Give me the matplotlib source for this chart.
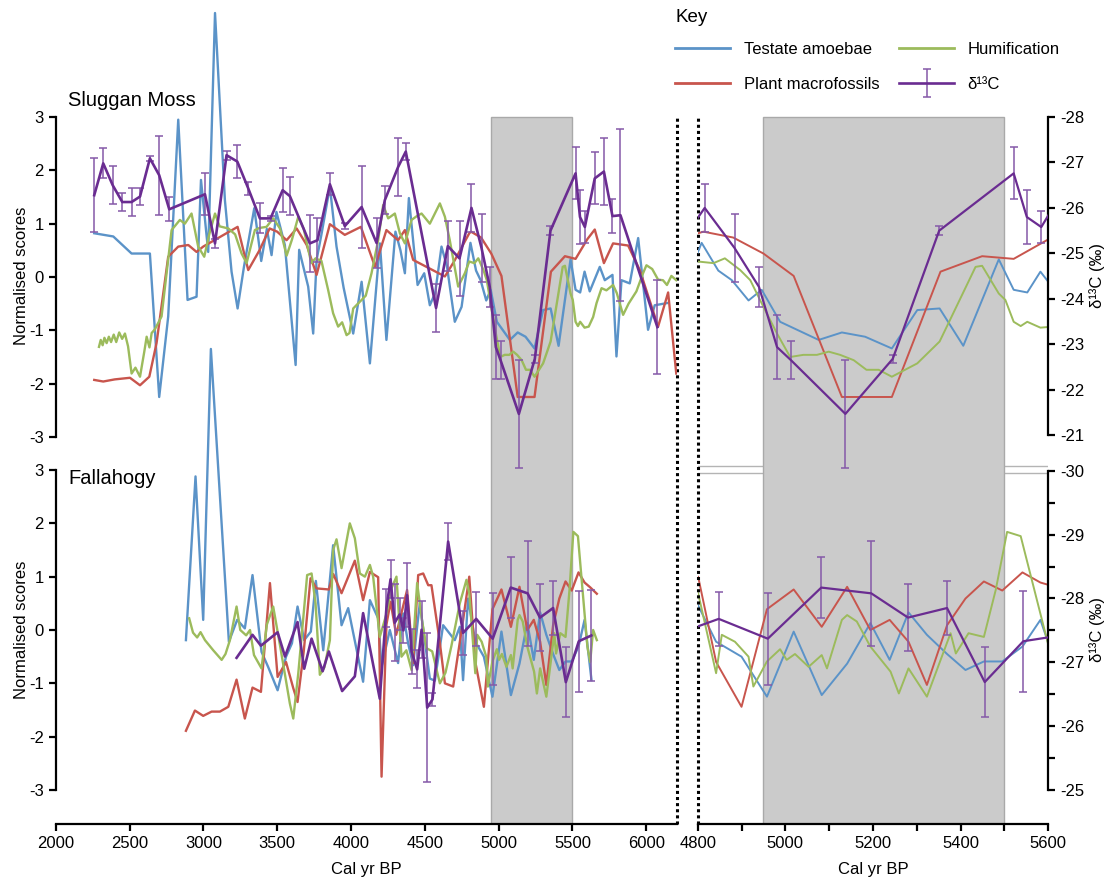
import numpy as np
import matplotlib.pyplot as plt
from matplotlib.lines import Line2D
from matplotlib.legend_handler import HandlerErrorbar

plt.rcParams['font.family'] = ['Liberation Sans', 'DejaVu Sans']
plt.rcParams['axes.unicode_minus'] = False

# ---- Sluggan Moss (normalised scores) ----
sm_testate = [(2261, 0.82), (2390, 0.76), (2514, 0.44), (2638, 0.44), (2701, -2.25), (2762, -0.74),
              (2830, 2.95), (2893, -0.43), (2954, -0.37), (2984, 1.82), (3033, 0.47), (3079, 4.95),
              (3146, 1.44), (3191, 0.10), (3232, -0.59), (3275, 0.19), (3345, 1.29), (3392, 0.30),
              (3430, 0.90), (3462, 0.41), (3495, 1.22), (3552, 0.60), (3625, -1.65), (3649, 0.51),
              (3710, -0.18), (3744, -1.06), (3767, 0.32), (3800, 0.80), (3857, 1.69), (3902, 0.57),
              (3950, -0.20), (4015, -1.06), (4072, -0.09), (4128, -1.62), (4196, 0.63), (4240, -1.18),
              (4301, 0.85), (4335, 0.50), (4365, 0.07), (4392, 1.48), (4451, -0.15), (4496, 0.07),
              (4534, -0.53), (4570, -0.30), (4613, 0.57), (4650, 0.20), (4703, -0.84), (4749, -0.56),
              (4809, 0.64), (4847, 0.12), (4878, -0.06), (4916, -0.44), (4946, -0.24), (4988, -0.84),
              (5076, -1.18), (5129, -1.04), (5182, -1.12), (5243, -1.34), (5301, -0.62), (5352, -0.59),
              (5406, -1.29), (5487, 0.33), (5521, -0.24), (5552, -0.29), (5582, 0.10), (5617, -0.27),
              (5685, 0.19), (5719, -0.06), (5771, 0.04), (5798, -1.49), (5832, -0.06), (5888, -0.12),
              (5945, 0.73), (6012, -0.99), (6057, -0.53), (6140, -0.49)]

sm_macro = [(2261, -1.93), (2322, -1.96), (2400, -1.92), (2503, -1.89), (2571, -2.03), (2634, -1.87),
            (2683, -1.24), (2762, 0.38), (2830, 0.57), (2898, 0.60), (2954, 0.47), (2999, 0.57),
            (3232, 0.94), (3304, 0.13), (3380, 0.50), (3449, 0.91), (3500, 0.85), (3564, 0.69),
            (3632, 0.91), (3700, 0.60), (3767, 0.04), (3857, 0.99), (3958, 0.79), (4067, 0.94),
            (4163, 0.19), (4240, 0.88), (4319, 0.69), (4365, 0.88), (4421, 0.32), (4636, 0.01),
            (4700, 0.30), (4801, 0.82), (4813, 0.85), (4881, 0.74), (4950, 0.44), (5019, 0.02),
            (5129, -2.25), (5243, -2.25), (5354, 0.10), (5449, 0.39), (5521, 0.34), (5601, 0.71),
            (5651, 0.89), (5713, 0.26), (5775, 0.63), (5877, 0.59), (5956, 0.13), (6080, -0.93),
            (6148, -0.29), (6203, -1.81)]

sm_humif = [(2293, -1.31), (2305, -1.18), (2318, -1.28), (2330, -1.14), (2345, -1.24), (2360, -1.12),
            (2375, -1.22), (2393, -1.08), (2410, -1.22), (2430, -1.04), (2450, -1.16), (2469, -1.06),
            (2490, -1.30), (2514, -1.81), (2540, -1.70), (2571, -1.87), (2600, -1.40), (2616, -1.12),
            (2635, -1.32), (2650, -1.05), (2672, -0.98), (2717, -0.74), (2785, 0.88), (2841, 1.07),
            (2875, 1.00), (2920, 1.19), (2965, 0.57), (3006, 0.38), (3040, 0.80), (3079, 1.19),
            (3110, 0.95), (3169, 0.91), (3215, 0.80), (3259, 0.44), (3293, 0.26), (3349, 0.88),
            (3380, 0.92), (3428, 0.94), (3473, 1.10), (3519, 0.91), (3564, 0.40), (3600, 0.70),
            (3643, 1.13), (3680, 0.90), (3731, 0.26), (3760, 0.35), (3800, 0.30), (3845, -0.24),
            (3879, -0.68), (3913, -0.93), (3940, -0.85), (3970, -1.09), (3990, -1.05), (4015, -0.59),
            (4072, -0.43), (4100, -0.35), (4139, 0.07), (4184, 0.69), (4218, 1.35), (4252, 1.10),
            (4297, 1.19), (4331, 0.82), (4365, 0.63), (4410, 1.07), (4450, 1.15), (4478, 1.19),
            (4534, 1.00), (4602, 1.38), (4636, 1.13), (4669, 0.69), (4726, -0.18), (4771, 0.07),
            (4801, 0.29), (4836, 0.26), (4862, 0.35), (4897, 0.13), (4920, -0.06), (4950, -0.56),
            (4981, -1.06), (5011, -1.50), (5041, -1.46), (5072, -1.46), (5099, -1.40), (5125, -1.46),
            (5156, -1.56), (5185, -1.74), (5213, -1.74), (5243, -1.87), (5301, -1.62), (5352, -1.21),
            (5403, -0.34), (5434, 0.19), (5449, 0.21), (5487, -0.31), (5502, -0.43), (5521, -0.84),
            (5537, -0.92), (5552, -0.84), (5582, -0.95), (5610, -0.93), (5640, -0.75), (5663, -0.49),
            (5697, -0.21), (5730, -0.25), (5775, -0.15), (5800, -0.30), (5843, -0.71), (5880, -0.50),
            (5933, -0.27), (5978, 0.07), (6001, 0.22), (6040, 0.15), (6080, -0.05), (6113, -0.06),
            (6140, -0.15), (6170, 0.02), (6203, -0.06)]

# (year, d13C permil, error)
sm_d13c = [(2261, -26.28, 0.82), (2322, -26.98, 0.33), (2386, -26.50, 0.42), (2451, -26.13, 0.19),
           (2514, -26.13, 0.30), (2571, -26.25, 0.18), (2638, -27.09, 0.06), (2701, -26.72, 0.87),
           (2769, -25.97, 0.26), (3011, -26.30, 0.46), (3079, -25.22, 0.10), (3157, -27.16, 0.10),
           (3230, -27.02, 0.37), (3304, -26.43, 0.15), (3383, -25.77, 0.33), (3455, -25.77, 0.05),
           (3537, -26.39, 0.49), (3586, -26.26, 0.42), (3721, -25.22, 0.62), (3773, -25.29, 0.48),
           (3857, -26.52, 0.24), (3958, -25.60, 0.06), (4072, -26.02, 0.90), (4173, -25.23, 0.55),
           (4229, -26.17, 0.31), (4319, -26.90, 0.64), (4371, -27.24, 0.19), (4576, -23.80, 0.52),
           (4656, -25.16, 0.55), (4735, -24.89, 0.82), (4816, -26.00, 0.52), (4884, -25.12, 0.75),
           (4940, -24.26, 0.44), (4981, -22.94, 0.71), (5013, -22.65, 0.42), (5137, -21.47, 1.19),
           (5245, -22.68, 0.09), (5351, -25.50, 0.10), (5521, -26.76, 0.57), (5551, -25.80, 0.59),
           (5584, -25.58, 0.35), (5651, -26.65, 0.57), (5713, -26.80, 0.74), (5771, -25.82, 0.38),
           (5825, -25.84, 1.89), (6075, -23.38, 1.03)]

# ---- Fallahogy ----
fa_testate = [(2882, -0.19), (2947, 2.88), (2999, 0.19), (3051, 5.27), (3173, -0.22), (3229, 0.19),
              (3281, 0.03), (3333, 1.03), (3394, -0.41), (3440, -0.70), (3503, -1.13), (3560, -0.50),
              (3600, -0.25), (3638, 0.44), (3683, -0.19), (3728, -0.03), (3762, 0.92), (3812, -0.38),
              (3879, 1.59), (3936, 0.09), (3981, 0.41), (4082, -0.97), (4128, 0.56), (4184, 0.22),
              (4207, -0.69), (4263, 0.00), (4319, -0.62), (4353, 0.31), (4387, -0.25), (4421, -0.66),
              (4448, 0.06), (4466, 0.50), (4534, -0.91), (4568, -0.95), (4624, 0.09), (4703, -0.19),
              (4737, 0.06), (4759, -0.94), (4793, 0.59), (4842, -0.22), (4900, -0.50), (4958, -1.25),
              (5019, -0.03), (5083, -1.22), (5141, -0.63), (5194, 0.13), (5238, -0.56), (5281, 0.33),
              (5323, -0.09), (5369, -0.45), (5411, -0.75), (5453, -0.59), (5495, -0.59), (5541, -0.31),
              (5582, 0.19), (5629, -0.94)]

fa_macro = [(2882, -1.89), (2943, -1.51), (2999, -1.61), (3056, -1.53), (3112, -1.53), (3169, -1.44),
            (3225, -0.93), (3281, -1.66), (3333, -1.08), (3390, -1.16), (3451, 0.88), (3503, -0.88),
            (3560, -0.60), (3609, -1.09), (3638, -1.35), (3680, -0.40), (3726, 0.97), (3767, 0.78),
            (3850, 0.76), (3880, 1.05), (3936, 0.69), (4026, 1.30), (4082, 0.56), (4128, 1.09),
            (4184, 0.99), (4207, -2.75), (4240, 0.10), (4268, 0.53), (4306, -0.09), (4340, 0.30),
            (4380, 0.75), (4421, -0.62), (4455, 1.03), (4489, 1.06), (4523, 0.84), (4545, 0.84),
            (4600, -0.20), (4636, -1.00), (4692, -1.06), (4760, 0.20), (4801, 1.00), (4842, -0.60),
            (4900, -1.44), (4958, 0.39), (5019, 0.76), (5083, 0.06), (5141, 0.81), (5194, 0.00),
            (5238, 0.19), (5281, -0.22), (5323, -1.03), (5369, 0.09), (5411, 0.59), (5453, 0.91),
            (5495, 0.74), (5541, 1.08), (5582, 0.89), (5620, 0.80), (5665, 0.68)]

fa_humif = [(2904, 0.22), (2930, -0.05), (2958, -0.14), (2981, -0.04), (3011, -0.19), (3067, -0.38),
            (3124, -0.56), (3150, -0.45), (3180, -0.19), (3225, 0.44), (3250, 0.00), (3290, -0.10),
            (3316, 0.00), (3343, -0.47), (3394, -0.72), (3430, 0.10), (3473, 0.44), (3520, -0.30),
            (3586, -1.38), (3609, -1.66), (3643, -0.81), (3703, 1.03), (3733, 1.06), (3760, 0.50),
            (3789, -0.84), (3820, -0.70), (3857, -0.19), (3879, 1.50), (3902, 1.70), (3936, 1.16),
            (3992, 2.00), (4026, 1.72), (4060, 1.06), (4094, 1.00), (4128, 1.22), (4150, 1.00),
            (4195, -0.13), (4240, 0.30), (4274, 0.78), (4308, 1.00), (4342, -0.50), (4375, -0.38),
            (4410, -0.75), (4448, 0.88), (4480, 0.20), (4511, -0.34), (4550, -0.40), (4602, -1.00),
            (4640, -0.80), (4680, -0.30), (4737, 0.50), (4782, 0.94), (4801, 0.69), (4842, -0.81),
            (4855, -0.09), (4885, -0.22), (4916, -0.50), (4927, -1.06), (4958, -0.59), (4988, -0.36),
            (5003, -0.56), (5022, -0.45), (5053, -0.69), (5083, -0.47), (5095, -0.72), (5129, 0.19),
            (5141, 0.28), (5163, 0.16), (5194, -0.31), (5240, -0.78), (5259, -1.19), (5281, -0.72),
            (5323, -1.25), (5377, -0.06), (5389, -0.44), (5418, -0.06), (5453, -0.13), (5480, 0.75),
            (5506, 1.84), (5537, 1.76), (5601, -0.31), (5620, -0.60), (5640, 0.00), (5665, -0.19)]

nan = np.nan
fa_d13c = [(3225, -27.07, nan), (3333, -27.43, nan), (3390, -27.26, nan), (3503, -27.47, nan),
           (3553, -27.09, nan), (3638, -27.63, nan), (3683, -26.90, nan), (3733, -27.37, nan),
           (3808, -26.86, nan), (3850, -27.17, nan), (3940, -26.55, nan), (4026, -26.78, nan),
           (4082, -27.77, nan), (4195, -26.43, nan), (4240, -27.85, 0.30), (4268, -28.30, 0.30),
           (4296, -27.62, 0.60), (4330, -27.75, 0.25), (4355, -27.50, 0.20), (4380, -28.05, 0.50),
           (4410, -27.17, 0.35), (4448, -26.89, 0.30), (4478, -27.51, 0.45), (4516, -26.29, 1.17),
           (4552, -26.42, 0.10), (4658, -28.89, 0.29), (4759, -27.46, 0.35), (4848, -27.68, 0.42),
           (4960, -27.37, 0.72), (5082, -28.17, 0.48), (5196, -28.08, 0.82), (5280, -27.70, 0.52),
           (5369, -27.85, 0.43), (5455, -26.69, 0.55), (5543, -27.33, 0.79), (5628, -27.42, 0.71)]

shade = (4950, 5500)

c_blue, c_red, c_green = '#5b93c8', '#c8554d', '#9cbb5c'
c_purple, c_ebar = '#6a2c91', '#8559a8'
c_shade = '#cbcbcb'

W, H = 1109, 881
bot_frac = 1 - 824 / H
panels = [
    dict(rect=[55.7 / W, bot_frac, (677 - 55.7) / W, 824 / H], xlim=(2000, 6208), right=False),
    dict(rect=[697.7 / W, bot_frac, (1048.3 - 697.7) / W, 824 / H], xlim=(4800, 5600), right=True),
]

fig = plt.figure(figsize=(W / 100, H / 100), dpi=100)
dotted = (0, (1, 1))
spw = 1.6


def xy(pairs):
    a = np.array(pairs, dtype=float)
    return a[:, 0], a[:, 1]


def dotted_spine(sp):
    sp.set_visible(True)
    sp.set_linestyle(dotted)
    sp.set_linewidth(2.2)
    sp.set_capstyle('butt')
    sp.set_bounds(-3.6375, 9.619)


err_handle = None
for p in panels:
    lw = 1.4 if p['right'] else 1.7
    # bottom row (Fallahogy) - axes spans whole height, 3 at px 470, -3 at px 790
    ab = fig.add_axes(p['rect'])
    ab.set_facecolor('none')
    ab.set_xlim(*p['xlim'])
    ab.set_ylim(-3.6375, 11.813)
    # top row (Sluggan Moss) - 3 at px 117, -3 at px 437
    at = fig.add_axes(p['rect'])
    at.set_facecolor('none')
    at.set_xlim(*p['xlim'])
    at.set_ylim(-10.257, 5.194)

    if p['right']:
        ab.axhline(3.075, color='#b4b4b4', lw=1.0, zorder=0.5)
        ab.axhline(2.944, color='#b4b4b4', lw=1.0, zorder=0.5)
    ab.axvspan(*shade, ymin=0, ymax=(824 - 117) / 824, facecolor=c_shade,
               edgecolor='#a9a9a9', lw=1.0, zorder=0.8)

    for data, col in [(fa_testate, c_blue), (fa_macro, c_red), (fa_humif, c_green)]:
        x, y = xy(data)
        ab.plot(x, y, color=col, lw=lw, zorder=2)
    for data, col in [(sm_testate, c_blue), (sm_macro, c_red), (sm_humif, c_green)]:
        x, y = xy(data)
        at.plot(x, y, color=col, lw=lw, zorder=2)

    # d13C twins
    tt = at.twinx()
    tt.set_ylim(-12.451, -30.573)
    tb = ab.twinx()
    tb.set_ylim(-24.468, -37.371)
    for tw, data in [(tt, sm_d13c), (tb, fa_d13c)]:
        a = np.array(data, dtype=float)
        eb = tw.errorbar(a[:, 0], a[:, 1], yerr=a[:, 2], color=c_purple, lw=lw + 0.2,
                         ecolor=c_ebar, elinewidth=1.1, capsize=3, capthick=1.1, zorder=3)
        if err_handle is None:
            err_handle = eb

    # spines / ticks
    for ax in (ab, at, tt, tb):
        for s in ax.spines.values():
            s.set_visible(False)
            s.set_linewidth(spw)
        ax.tick_params(width=spw, length=5, labelsize=12, color='black')

    ab.spines['bottom'].set_visible(True)
    if not p['right']:
        ab.set_xticks(range(2000, 6001, 500))
        for ax in (ab, at):
            ax.spines['left'].set_visible(True)
            ax.spines['left'].set_bounds(-3, 3)
            ax.set_yticks(range(-3, 4))
        dotted_spine(ab.spines['right'])
        tt.axis('off')
        tb.axis('off')
        at.tick_params(bottom=False, labelbottom=False)
    else:
        ticks = list(range(4800, 5601, 100))
        ab.set_xticks(ticks)
        ab.set_xticklabels([str(t) if t % 200 == 0 else '' for t in ticks])
        dotted_spine(ab.spines['left'])
        ab.tick_params(left=False, labelleft=False)
        at.axis('off')
        tt.spines['right'].set_visible(True)
        tt.spines['right'].set_bounds(-28, -21)
        tt.set_yticks(range(-28, -20))
        tb.spines['right'].set_visible(True)
        tb.spines['right'].set_bounds(-30, -25)
        tb.set_yticks(range(-30, -24))
        tb.set_yticks(np.arange(-29.5, -25, 1.0), minor=True)
        tb.tick_params(which='minor', width=spw, length=5)
        tb.set_ylim(-24.468, -37.371)
    ab.set_xlabel('Cal yr BP', fontsize=12, labelpad=8)

# labels
for yc in (276, 630):
    fig.text(22 / W, 1 - yc / H, 'Normalised scores', rotation=90, ha='center', va='center', fontsize=12)
for yc in (275, 630):
    fig.text(1097 / W, 1 - yc / H, 'δ¹³C (‰)', rotation=90, ha='center', va='center', fontsize=12)
fig.text(68 / W, 1 - 101 / H, 'Sluggan Moss', fontsize=14.5, va='center')
fig.text(68 / W, 1 - 478 / H, 'Fallahogy', fontsize=14.5, va='center')
fig.text(676 / W, 1 - 18 / H, 'Key', fontsize=13.5, va='center')

handles = [Line2D([], [], color=c_blue, lw=2), Line2D([], [], color=c_red, lw=2),
           Line2D([], [], color=c_green, lw=2), err_handle]
labels = ['Testate amoebae', 'Plant macrofossils', 'Humification', 'δ¹³C']
leg = fig.legend(handles, labels, ncol=2, loc='upper left', bbox_to_anchor=(672 / W, 1 - 39 / H),
                 frameon=False, fontsize=12,
                 handlelength=3.3, handletextpad=0.8, columnspacing=1.2, labelspacing=1.2,
                 borderaxespad=0, borderpad=0.2,
                 handler_map={type(err_handle): HandlerErrorbar(yerr_size=0.84)})

fig.savefig('out.png', dpi=100)
